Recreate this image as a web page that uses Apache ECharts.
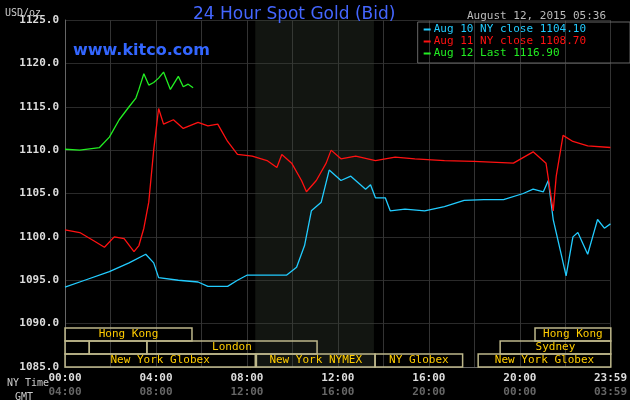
<!DOCTYPE html>
<html><head><meta charset="utf-8">
<script src="https://cdn.jsdelivr.net/npm/echarts@6/dist/echarts.min.js"></script>
<style>body{margin:0;background:#000}#c{width:630px;height:400px}</style>
</head><body><div id="c"></div>
<script>
// minutes after NY midnight, price
var aug10 = [[0,1094.2],[52,1095],[117,1096],[169,1097],[213,1098],[234,1097],[247,1095.3],[299,1095],[351,1094.8],[377,1094.3],[429,1094.3],[455,1095],[481,1095.6],[585,1095.6],[611,1096.5],[632,1099],[650,1103],[676,1104],[697,1107.7],[728,1106.5],[754,1107],[793,1105.5],[806,1106],[819,1104.5],[845,1104.5],[858,1103],[897,1103.2],[949,1103],[1001,1103.5],[1053,1104.2],[1105,1104.3],[1157,1104.3],[1209,1105],[1235,1105.5],[1262,1105.2],[1275,1106.5],[1288,1102],[1309,1098],[1322,1095.5],[1340,1100],[1353,1100.5],[1379,1098],[1392,1100],[1405,1102],[1423,1101],[1439,1101.5]];
var aug11 = [[0,1100.8],[39,1100.5],[78,1099.5],[104,1098.8],[130,1100],[156,1099.8],[182,1098.3],[195,1099],[208,1101],[221,1104],[234,1110],[247,1114.8],[260,1113],[286,1113.5],[312,1112.5],[351,1113.2],[377,1112.8],[403,1113],[429,1111],[455,1109.5],[494,1109.3],[533,1108.8],[559,1108],[572,1109.5],[598,1108.5],[624,1106.5],[637,1105.2],[663,1106.5],[689,1108.5],[702,1110],[728,1109],[767,1109.3],[819,1108.8],[871,1109.2],[923,1109],[1001,1108.8],[1079,1108.7],[1183,1108.5],[1235,1109.8],[1269,1108.5],[1288,1103],[1296,1107],[1314,1111.7],[1340,1111],[1379,1110.5],[1439,1110.3]];
var aug12 = [[0,1110.1],[39,1110],[91,1110.3],[117,1111.5],[143,1113.5],[169,1115],[187,1116],[195,1117],[208,1118.8],[221,1117.5],[234,1117.8],[247,1118.3],[260,1119],[278,1117],[299,1118.5],[312,1117.3],[325,1117.6],[338,1117.2]];
// [start, end, row, label]
var sessions = [[0,335,0,'Hong Kong'],[1240,1440,0,'Hong Kong'],[0,64,1,''],[64,216,1,''],[216,665,1,'London'],[1148,1440,1,'Sydney'],[0,502,2,'New York Globex'],[505,818,2,'New York NYMEX'],[818,1049,2,'NY Globex'],[1090,1440,2,'New York Globex']];
var rowTop = [1089.5, 1088, 1086.5];
var rowBot = [1088, 1086.5, 1085];
var legendNames = ['Aug 10 NY close 1104.10', 'Aug 11 NY close 1108.70', 'Aug 12 Last 1116.90'];
var colors = ['#22ccff', '#ff1111', '#22ee22'];

function hm(v){ v = ((v % 1440) + 1440) % 1440; var h = Math.floor(v/60), m = Math.round(v%60); return (h<10?'0':'')+h+':'+(m<10?'0':'')+m; }
var mono = 'DejaVu Sans Mono';
var chart = echarts.init(document.getElementById('c'));
chart.setOption({
  backgroundColor: '#000',
  animation: false,
  grid: {left: 65, right: 12, top: 20, bottom: 33},
  title: [{text: '24 Hour Spot Gold (Bid)', left: 188, top: 1, textStyle: {color: '#4466ff', fontSize: 17, fontWeight: 'normal', fontFamily: 'DejaVu Sans'}},
    {text: 'www.kitco.com', left: 68, top: 38, textStyle: {color: '#3366ff', fontSize: 16, fontWeight: 'bold', fontFamily: 'DejaVu Sans'}},
    {text: 'August 12, 2015 05:36', left: 462, top: 6, textStyle: {color: '#bbbbbb', fontSize: 11, fontWeight: 'normal', fontFamily: mono}},
    {text: 'USD/oz', left: 0, top: 3, textStyle: {color: '#cccccc', fontSize: 10, fontWeight: 'normal', fontFamily: mono}},
    {text: 'NY Time', left: 2, top: 373, textStyle: {color: '#cccccc', fontSize: 10, fontWeight: 'normal', fontFamily: mono}},
    {text: 'GMT', left: 10, top: 387, textStyle: {color: '#cccccc', fontSize: 10, fontWeight: 'normal', fontFamily: mono}}],
  legend: {right: 0, top: 22, orient: 'vertical', itemGap: 1, itemWidth: 7, itemHeight: 2, icon: 'rect',
    padding: [2, 44, 4, 6], borderColor: '#666', borderWidth: 1,
    textStyle: {fontFamily: mono, fontSize: 11, padding: [0,0,0,-2]},
    data: legendNames.map(function(n, i){ return {name: n, textStyle: {color: colors[i]}}; })},
  xAxis: {type: 'value', min: 0, max: 1439, interval: 120,
    axisLine: {lineStyle: {color: '#666'}}, axisTick: {show: false},
    splitLine: {show: true, lineStyle: {color: '#333'}},
    axisLabel: {showMaxLabel: true, margin: 4, fontFamily: mono, fontSize: 11, fontWeight: 'bold', lineHeight: 14,
      formatter: function(v){ if (v % 240 !== 0 && v !== 1439) return ''; return '{a|' + hm(v) + '}\n{b|' + hm(v + 240) + '}'; },
      rich: {a: {color: '#dddddd', fontFamily: mono, fontWeight: 'bold', fontSize: 11}, b: {color: '#666666', fontFamily: mono, fontWeight: 'bold', fontSize: 11}}}},
  yAxis: {type: 'value', min: 1085, max: 1125, interval: 5,
    axisLine: {show: true, lineStyle: {color: '#666'}}, axisTick: {show: false},
    splitLine: {lineStyle: {color: '#2a2a2a'}},
    axisLabel: {color: '#dddddd', fontFamily: mono, fontSize: 11, fontWeight: 'bold', margin: 6, formatter: function(v){ return v.toFixed(1); }}},
  series: [
    {type: 'custom', silent: true, z: 1, data: sessions,
      renderItem: function(params, api){
        var s = api.value(0), e = api.value(1), r = api.value(2);
        var p1 = api.coord([s, rowTop[r]]), p2 = api.coord([e, rowBot[r]]);
        var lbl = sessions[params.dataIndex][3];
        return {type: 'group', children: [
          {type: 'rect', shape: {x: p1[0], y: p1[1], width: p2[0]-p1[0], height: p2[1]-p1[1]}, style: {fill: 'rgba(0,0,0,0)', stroke: '#bdb78a', lineWidth: 1.5}},
          {type: 'text', style: {text: lbl, x: (p1[0]+p2[0])/2, y: (p1[1]+p2[1])/2, align: 'center', verticalAlign: 'middle', fill: '#ffcc00', font: '11px ' + mono}}]};
      }},
    {name: legendNames[0], type: 'line', data: aug10, showSymbol: false, lineStyle: {color: colors[0], width: 1.3}, itemStyle: {color: colors[0]}, z: 3,
      markArea: {silent: true, itemStyle: {color: 'rgba(60,70,55,0.3)'}, data: [[{xAxis: 502}, {xAxis: 815}]]}},
    {name: legendNames[1], type: 'line', data: aug11, showSymbol: false, lineStyle: {color: colors[1], width: 1.3}, itemStyle: {color: colors[1]}, z: 3},
    {name: legendNames[2], type: 'line', data: aug12, showSymbol: false, lineStyle: {color: colors[2], width: 1.3}, itemStyle: {color: colors[2]}, z: 3}
  ]
});
</script></body></html>
